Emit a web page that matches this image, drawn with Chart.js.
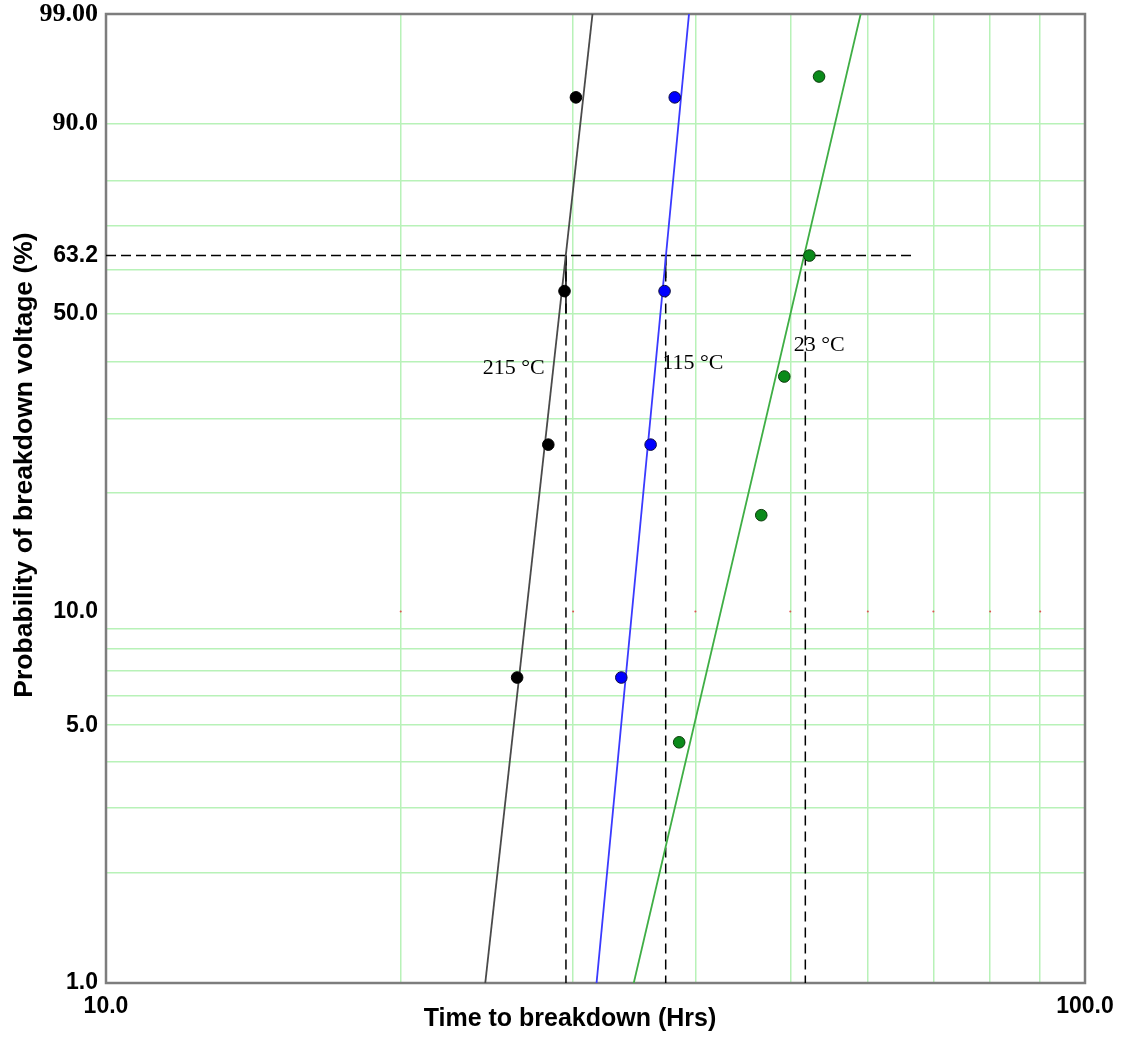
<!DOCTYPE html>
<html>
<head>
<meta charset="utf-8">
<script src="https://cdn.jsdelivr.net/npm/chart.js@4/dist/chart.umd.min.js"></script>
<style>
  html, body { margin: 0; padding: 0; background: #fff; }
  #wrap { width: 1139px; height: 1042px; position: relative; }
</style>
</head>
<body>
<div id="wrap"><canvas id="c"></canvas></div>
<script>
// ---------- data ----------
const timeTicks = [10, 20, 30, 40, 50, 60, 70, 80, 90, 100];
const timeLabelValues = [10, 100];
const timeLabelTexts = ['10.0', '100.0'];

const probGrid = [1, 2, 3, 4, 5, 6, 7, 8, 9, 10, 20, 30, 40, 50, 60, 63.2, 70, 80, 90, 99];
const probLabelValues = [1, 5, 10, 50, 63.2, 90, 99];
const probLabelTexts = ['1.0', '5.0', '10.0', '50.0', '63.2', '90.0', '99.00'];

const seriesNames = ['215 \u00B0C', '115 \u00B0C', '23 \u00B0C'];

const t215 = [26.3, 28.3, 29.4, 30.2];
const p215 = [6.7, 26.1, 55.0, 93.4];
const t115 = [33.6, 36.0, 37.2, 38.1];
const p115 = [6.7, 26.1, 55.0, 93.4];
const t23 = [38.5, 46.7, 49.3, 52.3, 53.5];
const p23 = [4.5, 17.6, 37.2, 63.2, 95.5];

const fitP = [1, 99];
const fit215T = [24.4, 31.4];
const fit115T = [31.7, 39.4];
const fit23T = [34.6, 59.0];

const etaP = 63.2;
const etaT = [29.5, 37.3, 51.8];
const etaLineEndT = 66.7;
const minP = 1;
const solidEndP = [50, 58];

const redDotTimes = [20, 30, 40, 50, 60, 70, 80, 90];
const redDotP = 10;

const xTitle = 'Time to breakdown (Hrs)';
const yTitle = 'Probability of breakdown voltage (%)';

// label anchors (data units)
const labelT = [24.25, 37.0, 50.4];
const labelP = [38.7, 39.7, 43.3];

// ---------- Weibull probability scale ----------
const W = p => Math.log(-Math.log(1 - p / 100));
class WeibullScale extends Chart.LinearScale {
  determineDataLimits() { this.min = this.options.min; this.max = this.options.max; }
  buildTicks() { return probGrid.map(v => ({ value: v })); }
  configure() {
    super.configure();
    this._startValue = W(this.min);
    this._endValue = W(this.max);
    this._valueRange = this._endValue - this._startValue;
  }
  getPixelForValue(value) {
    if (value === null || value === undefined || isNaN(value)) return NaN;
    return this.getPixelForDecimal((W(value) - this._startValue) / this._valueRange);
  }
  getValueForPixel(pixel) {
    const w = this._startValue + this.getDecimalForPixel(pixel) * this._valueRange;
    return 100 * (1 - Math.exp(-Math.exp(w)));
  }
}
WeibullScale.id = 'weibull';
WeibullScale.defaults = {};
Chart.register(WeibullScale);

const pts = (ts, ps) => ts.map((t, i) => ({ x: t, y: ps[i] }));

const SANS = "'Liberation Sans', Arial, sans-serif";
const SERIF = "'Liberation Serif', 'Times New Roman', serif";
const GRID = 'rgb(184,242,184)';

const datasets = [];
// fitted lines
[[fit215T, '#4a4a4a'], [fit115T, '#3a3aff'], [fit23T, '#3fae45']].forEach(([ts, col]) => {
  datasets.push({ data: pts(ts, fitP), showLine: true, borderColor: col, borderWidth: 1.8,
    pointRadius: 0, fill: false, order: 2 });
});
// points
[[t215, p215, '#000000', '#000000'], [t115, p115, '#0000ff', '#101040'], [t23, p23, '#0a8a1a', '#0a3a0a']].forEach(([ts, ps, fillc, bc]) => {
  datasets.push({ data: pts(ts, ps), showLine: false, backgroundColor: fillc, borderColor: bc,
    borderWidth: 1, pointRadius: 5.8, order: 0 });
});
// characteristic life dashed lines
datasets.push({ data: [{ x: 10, y: etaP }, { x: etaLineEndT, y: etaP }], showLine: true,
  borderColor: '#000', borderWidth: 1.5, borderDash: [10, 5], pointRadius: 0, order: 3 });
etaT.forEach(t => {
  datasets.push({ data: [{ x: t, y: etaP }, { x: t, y: minP }], showLine: true,
    borderColor: '#000', borderWidth: 1.5, borderDash: [10, 6], pointRadius: 0, order: 3 });
});
solidEndP.forEach((p, i) => {
  datasets.push({ data: [{ x: etaT[i], y: etaP }, { x: etaT[i], y: p }], showLine: true,
    borderColor: '#000', borderWidth: 1.5, pointRadius: 0, order: 3 });
});
// small red marks
datasets.push({ data: redDotTimes.map(t => ({ x: t, y: redDotP })), showLine: false,
  backgroundColor: '#e05050', borderWidth: 0, pointRadius: 1, order: 4 });

const framePlugin = {
  id: 'frame',
  beforeDatasetsDraw(chart) {
    const { ctx, chartArea: a } = chart;
    ctx.save();
    ctx.strokeStyle = '#7d7d7d';
    ctx.lineWidth = 2.5;
    ctx.strokeRect(a.left, a.top, a.right - a.left, a.bottom - a.top);
    ctx.restore();
  },
  afterDraw(chart) {
    const { ctx } = chart;
    const xs = chart.scales.x, ys = chart.scales.y;
    ctx.save();
    ctx.fillStyle = '#000';
    ctx.textAlign = 'center';
    ctx.textBaseline = 'middle';
    ctx.font = 'bold 25px ' + SANS;
    ctx.fillText(xTitle, 570, 1019);
    ctx.save();
    ctx.translate(25, 465);
    ctx.rotate(-Math.PI / 2);
    ctx.font = 'bold 26.5px ' + SANS;
    ctx.fillText(yTitle, 0, 0);
    ctx.restore();
    ctx.font = '22px ' + SERIF;
    ctx.fillStyle = '#000';
    ctx.textAlign = 'left';
    seriesNames.forEach((s, i) => {
      ctx.fillText(s, xs.getPixelForValue(labelT[i]), ys.getPixelForValue(labelP[i]));
    });
    ctx.restore();
  }
};

new Chart(document.getElementById('c'), {
  type: 'scatter',
  data: { datasets },
  options: {
    responsive: true,
    maintainAspectRatio: false,
    animation: false,
    layout: { padding: { top: 14, right: 54, bottom: 0, left: 0 } },
    plugins: { legend: { display: false }, tooltip: { enabled: false } },
    scales: {
      x: {
        type: 'logarithmic',
        min: 10, max: 100,
        afterBuildTicks: s => { s.ticks = timeTicks.map(v => ({ value: v })); },
        afterFit: s => { s.height = 59; },
        border: { display: false },
        grid: {
          drawTicks: false,
          lineWidth: 1.5,
          color: c => (c.tick && (c.tick.value === 10 || c.tick.value === 100)) ? 'rgba(0,0,0,0)' : GRID
        },
        ticks: {
          autoSkip: false, maxRotation: 0, padding: 10, color: '#000',
          font: { family: SANS, size: 23, weight: 'bold' },
          callback: v => { const i = timeLabelValues.indexOf(v); return i >= 0 ? timeLabelTexts[i] : ''; }
        }
      },
      y: {
        type: 'weibull',
        min: 1, max: 99,
        afterFit: s => { s.width = 106; s.paddingTop = 0; s.paddingBottom = 0; },
        border: { display: false },
        grid: {
          drawTicks: false,
          lineWidth: 1.5,
          color: c => (c.tick && [1, 10, 63.2, 99].includes(c.tick.value)) ? 'rgba(0,0,0,0)' : GRID
        },
        ticks: {
          autoSkip: false, padding: 8, color: '#000',
          font: c => (c.tick && (c.tick.value === 99 || c.tick.value === 90))
            ? { family: SERIF, size: 26, weight: 'bold' }
            : { family: SANS, size: 23, weight: 'bold' },
          callback: v => { const i = probLabelValues.indexOf(v); return i >= 0 ? probLabelTexts[i] : ''; }
        }
      }
    }
  },
  plugins: [framePlugin]
});
</script>
</body>
</html>
